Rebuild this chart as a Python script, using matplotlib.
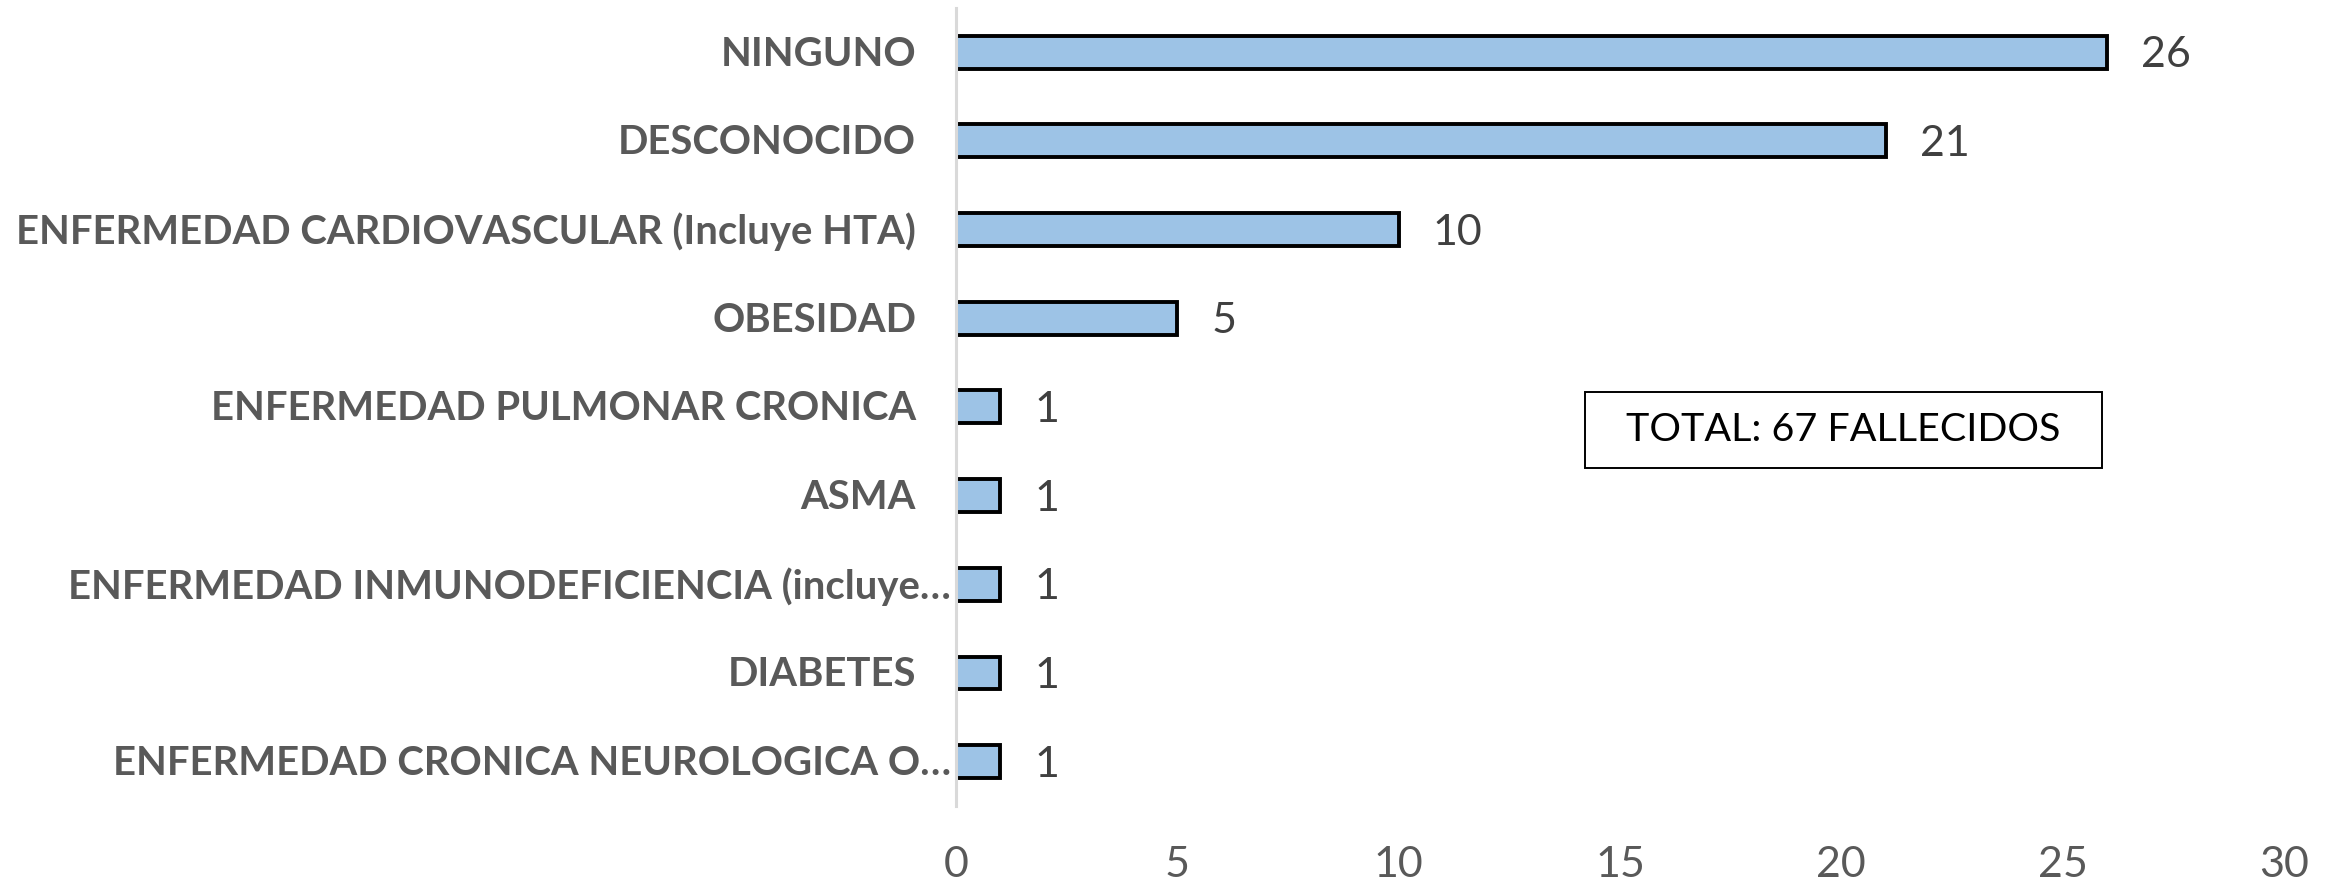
import matplotlib
matplotlib.use('Agg')
import matplotlib.pyplot as plt
import matplotlib.transforms as mtransforms
from matplotlib.patches import Rectangle

categories = [
    "NINGUNO",
    "DESCONOCIDO",
    "ENFERMEDAD CARDIOVASCULAR (Incluye HTA)",
    "OBESIDAD",
    "ENFERMEDAD PULMONAR CRONICA",
    "ASMA",
    "ENFERMEDAD INMUNODEFICIENCIA (incluye\u2026",
    "DIABETES",
    "ENFERMEDAD CRONICA NEUROLOGICA O\u2026",
]
values = [26, 21, 10, 5, 1, 1, 1, 1, 1]
xticks = [0, 5, 10, 15, 20, 25, 30]
total_text = "TOTAL: 67 FALLECIDOS"

FAM = ['Lato', 'DejaVu Sans']
W, H = 2338, 883
fig = plt.figure(figsize=(W / 100, H / 100), dpi=100)
ax = fig.add_axes([956 / W, 1 - 806 / H, (2284 - 956) / W, (806 - 7.8) / H])

ypos = list(range(len(categories)))
ax.barh(ypos, values, height=0.37, color='#9DC3E6', edgecolor='black',
        linewidth=2.8, zorder=2)
ax.set_ylim(len(categories) - 0.5, -0.5)
ax.set_xlim(0, 30)

for s in ['top', 'right', 'bottom']:
    ax.spines[s].set_visible(False)
ax.spines['left'].set_color('#D9D9D9')
ax.spines['left'].set_linewidth(2.2)
ax.spines['left'].set_zorder(5)

ax.set_yticks([])
ax.set_xticks(xticks)
ax.set_xticklabels([str(t) for t in xticks], fontfamily=FAM, fontsize=31,
                   color='#595959')
ax.tick_params(axis='x', length=0, pad=29)

fig.canvas.draw()
renderer = fig.canvas.get_renderer()

def fit(txt, target_px):
    fs = txt.get_fontsize()
    w = txt.get_window_extent(renderer).width
    txt.set_fontsize(fs * target_px / w)
    return txt.get_fontsize()

# category labels
base = mtransforms.blended_transform_factory(ax.transAxes, ax.transData)
labels = []
for i, c in enumerate(categories):
    dx = 5 if c.endswith('\u2026') else 40
    tr = base + mtransforms.ScaledTranslation(-dx / 100, -2 / 100, fig.dpi_scale_trans)
    t = ax.text(0, i, c, transform=tr, ha='right', va='center',
                fontfamily=FAM, fontweight='bold', fontsize=26,
                color='#595959', clip_on=False)
    labels.append(t)
fs = fit(labels[2], 901)
for t in labels:
    t.set_fontsize(fs)

# value labels
for i, v in enumerate(values):
    tr = ax.transData + mtransforms.ScaledTranslation(34 / 100, -3 / 100, fig.dpi_scale_trans)
    ax.text(v, i, str(v), transform=tr, ha='left', va='center',
            fontfamily=FAM, fontsize=31, color='#404040')

# total box
bx0, bx1, by0, by1 = 1585, 2102, 392, 468
fig.patches.append(Rectangle((bx0 / W, 1 - by1 / H), (bx1 - bx0) / W, (by1 - by0) / H,
                             transform=fig.transFigure, facecolor='white',
                             edgecolor='black', linewidth=1.4, zorder=10))
tt = fig.text((bx0 + bx1) / 2 / W, 1 - (by0 + by1) / 2 / H, total_text,
              ha='center', va='center', fontfamily=FAM, fontsize=28,
              color='black', zorder=11)
fit(tt, 434)

fig.savefig('out.png', dpi=100)
